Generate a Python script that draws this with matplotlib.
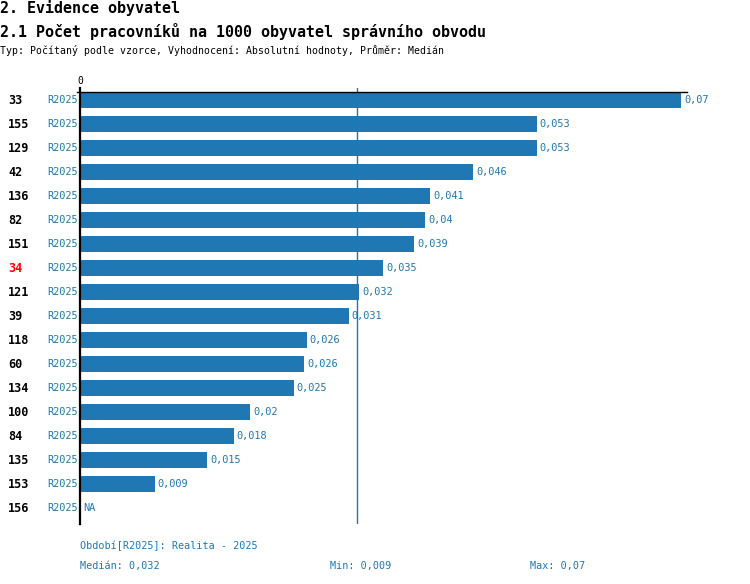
import numpy as np
import matplotlib
matplotlib.use("Agg")
from matplotlib import pyplot as plt
from matplotlib import transforms as mtransforms

#   DATA
ids = ["33", "155", "129", "42", "136", "82", "151", "34", "121",
       "39", "118", "60", "134", "100", "84", "135", "153", "156"]
values = [0.0700, 0.0532, 0.0532, 0.0458, 0.0408, 0.0402, 0.0389, 0.0353, 0.0325,
          0.0313, 0.0264, 0.0261, 0.0249, 0.0198, 0.0179, 0.0148, 0.0087, np.nan]
value_labels = ["0,07", "0,053", "0,053", "0,046", "0,041", "0,04", "0,039", "0,035", "0,032",
                "0,031", "0,026", "0,026", "0,025", "0,02", "0,018", "0,015", "0,009", "NA"]
period = "R2025"
highlight_id = "34"
median_value = 0.0323
median_label = "0,032"
min_label = "0,009"
max_label = "0,07"

BLUE = "#1f77b4"
MONO = "DejaVu Sans Mono"
W, H = 750, 584

fig = plt.figure(figsize=(W / 100, H / 100), dpi=100)
fig.patch.set_facecolor("white")

def px(x, y):
    return x / W, 1 - y / H

# headers
fig.text(*px(0, 8), "2. Evidence obyvatel", family=MONO, size=10.8,
         weight="bold", va="center", ha="left")
fig.text(*px(0, 31), "2.1 Počet pracovníků na 1000 obyvatel správního obvodu",
         family=MONO, size=10.8, weight="bold", va="center", ha="left")
fig.text(*px(0, 50), "Typ: Počítaný podle vzorce, Vyhodnocení: Absolutní hodnoty, Průměr: Medián",
         family=MONO, size=7.1, va="center", ha="left")

# axes: x=80..740 px, y=88..524 px
scale = 601 / 0.07  # px per unit
left, right, top, bottom = 80, 740, 88, 524
ax = fig.add_axes([left / W, 1 - bottom / H, (right - left) / W, (bottom - top) / H])
ax.set_xlim(0, (right - left) / scale)
n = len(ids)
ax.set_ylim(n - 1 + 16 / 24, -12 / 24)
for s in ["top", "right", "bottom"]:
    ax.spines[s].set_visible(False)
ax.spines["left"].set_linewidth(1.6)
ax.spines["left"].set_color("black")
ax.set_xticks([])
ax.set_yticks([])

y = np.arange(n)
vals = np.array(values, dtype=float)
ax.barh(y, np.nan_to_num(vals), height=0.65, color=BLUE, zorder=2)

# top line and zero label
ax.plot([-3 / scale, 0.0707], [-0.34, -0.34], color="black", lw=1, clip_on=False, zorder=3)
fig.text(*px(80, 81), "0", family=MONO, size=7, va="center", ha="center")

# median line
ax.axvline(median_value, color=BLUE, lw=1, zorder=1)

# row labels
tr = mtransforms.blended_transform_factory(fig.transFigure, ax.transData)
for i, (rid, lab, v) in enumerate(zip(ids, value_labels, vals)):
    col = "red" if rid == highlight_id else "black"
    ax.text(8 / W, i, rid, transform=tr, family=MONO, size=8.5, weight="bold",
            color=col, va="center", ha="left", clip_on=False)
    ax.text(78 / W, i, period, transform=tr, family=MONO, size=7.4,
            color=BLUE, va="center", ha="right", clip_on=False)
    xv = 0 if np.isnan(v) else v
    ax.annotate(lab, (xv, i), xytext=(2.2, 0), textcoords="offset points",
                family=MONO, size=7.4, color=BLUE, va="center", ha="left")

# footer
fig.text(*px(80, 546), "Období[" + period + "]: Realita - 2025", family=MONO, size=7.3,
         color=BLUE, va="center", ha="left")
fig.text(*px(80, 566), "Medián: " + median_label, family=MONO, size=7.3,
         color=BLUE, va="center", ha="left")
fig.text(*px(330, 566), "Min: " + min_label, family=MONO, size=7.3,
         color=BLUE, va="center", ha="left")
fig.text(*px(530, 566), "Max: " + max_label, family=MONO, size=7.3,
         color=BLUE, va="center", ha="left")

fig.savefig("out.png", dpi=100)
